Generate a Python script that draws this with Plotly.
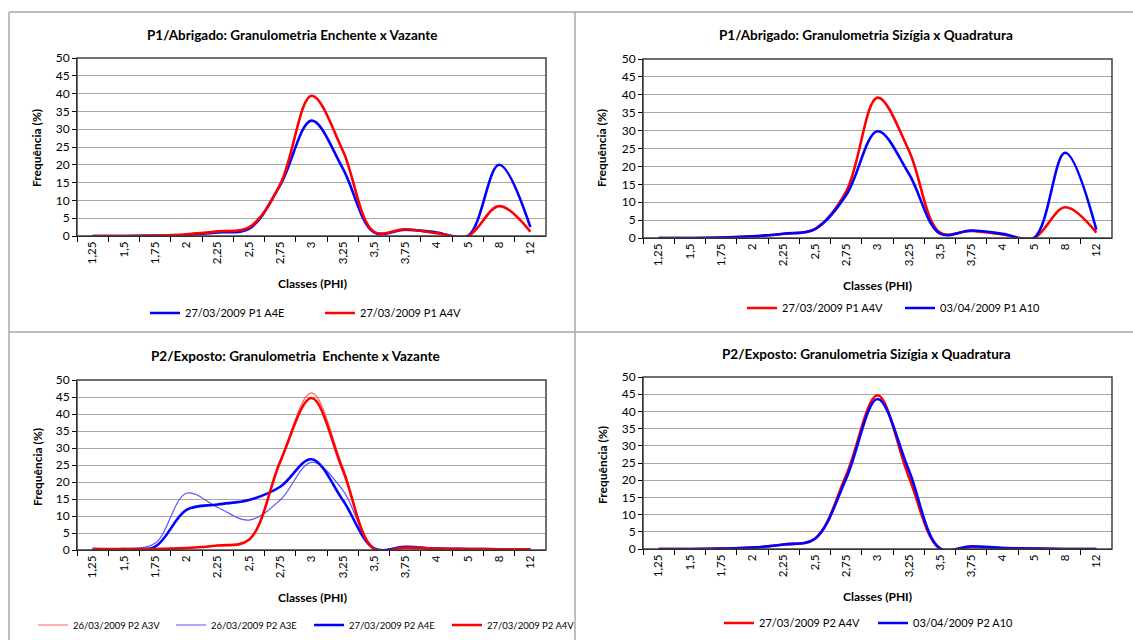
import plotly.graph_objects as go

W, H = 1133, 640

classes = ["1,25", "1,5", "1,75", "2", "2,25", "2,5", "2,75", "3",
           "3,25", "3,5", "3,75", "4", "5", "8", "12"]

# Chart 1: P1/Abrigado Enchente x Vazante
p1_a4e = [0, 0, 0.1, 0.3, 1.0, 2.0, 14.3, 32.4, 19.0, 1.0, 1.8, 1.0, 0, 20.0, 2.5]
p1_a4v = [0, 0, 0.1, 0.5, 1.3, 2.4, 14.5, 39.4, 24.0, 1.2, 1.9, 0.8, 0, 8.4, 1.2]
# Chart 2: P1/Abrigado Sizigia x Quadratura
p1_a4v_b = [0, 0, 0.1, 0.5, 1.2, 2.5, 13.0, 39.2, 24.5, 1.5, 2.0, 1.0, 0, 8.6, 1.5]
p1_a10 = [0, 0, 0.1, 0.5, 1.2, 2.5, 12.0, 29.8, 18.0, 1.2, 2.1, 1.2, 0, 23.8, 2.3]
# Chart 3: P2/Exposto Enchente x Vazante
p2_a3v = [0.3, 0.3, 0.3, 0.6, 1.4, 3.0, 26.0, 46.2, 24.5, 0.3, 0.8, 0.4, 0.3, 0.2, 0.2]
p2_a3e = [0.3, 0.4, 2.0, 16.7, 12.5, 8.8, 14.7, 25.8, 17.6, 0.5, 1.2, 0.5, 0.3, 0.2, 0.2]
p2_a4e = [0.3, 0.3, 1.0, 11.8, 13.4, 14.7, 18.6, 26.7, 14.7, 0.5, 0.8, 0.4, 0.3, 0.2, 0.2]
p2_a4v = [0.3, 0.3, 0.3, 0.6, 1.3, 3.0, 26.0, 44.7, 23.5, 0.3, 0.7, 0.4, 0.3, 0.2, 0.2]
# Chart 4: P2/Exposto Sizigia x Quadratura
p2_a4v_b = [0, 0, 0.1, 0.4, 1.3, 3.0, 21.5, 44.7, 21.0, 0.1, 0.6, 0.3, 0.1, 0, 0]
p2_a10 = [0, 0, 0.1, 0.4, 1.3, 3.0, 20.5, 43.6, 23.0, 0.2, 0.8, 0.3, 0.1, 0, 0]

titles = ["P1/Abrigado: Granulometria Enchente x Vazante",
          "P1/Abrigado: Granulometria Sizígia x Quadratura",
          "P2/Exposto: Granulometria  Enchente x Vazante",
          "P2/Exposto: Granulometria Sizígia x Quadratura"]

FONT = "Lato"
RED = "#FF0000"
BLUE = "#0000FF"
LRED = "#FF6060"
LBLUE = "#5555FF"

# plot areas in pixels: (left, right, top, bottom)
areas = [(77, 546, 58, 236), (643, 1112, 59, 238), (77, 546, 380, 550), (643, 1112, 377, 549)]

fig = go.Figure()

series = [
    (1, "27/03/2009 P1 A4E", p1_a4e, BLUE, 2.6, "legend"),
    (1, "27/03/2009 P1 A4V", p1_a4v, RED, 2.6, "legend"),
    (2, "27/03/2009 P1 A4V", p1_a4v_b, RED, 2.6, "legend2"),
    (2, "03/04/2009 P1 A10", p1_a10, BLUE, 2.6, "legend2"),
    (3, "26/03/2009 P2 A3V", p2_a3v, LRED, 1.2, "legend3"),
    (3, "26/03/2009 P2 A3E", p2_a3e, LBLUE, 1.2, "legend3"),
    (3, "27/03/2009 P2 A4E", p2_a4e, BLUE, 2.6, "legend3"),
    (3, "27/03/2009 P2 A4V", p2_a4v, RED, 2.6, "legend3"),
    (4, "27/03/2009 P2 A4V", p2_a4v_b, RED, 2.6, "legend4"),
    (4, "03/04/2009 P2 A10", p2_a10, BLUE, 2.6, "legend4"),
]

for k, name, vals, col, lw, leg in series:
    sfx = "" if k == 1 else str(k)
    fig.add_trace(go.Scatter(
        x=classes, y=vals, name=name, mode="lines",
        line=dict(color=col, width=lw, shape="spline", smoothing=1.0),
        xaxis="x" + sfx, yaxis="y" + sfx, legend=leg))

layout = dict(
    width=W, height=H,
    margin=dict(l=0, r=0, t=0, b=0, pad=0, autoexpand=False),
    paper_bgcolor="white", plot_bgcolor="white",
    font=dict(family=FONT, color="black", size=11),
    showlegend=True,
)

for i, (l, r, t, b) in enumerate(areas):
    k = i + 1
    sfx = "" if k == 1 else str(k)
    layout["xaxis" + sfx] = dict(
        domain=[l / W, r / W], anchor="y" + sfx, type="category",
        categoryorder="array", categoryarray=classes,
        range=[-0.5, 14.5], showgrid=False, zeroline=False,
        showline=True, linecolor="black", linewidth=1,
        ticks="outside", tickson="boundaries", ticklen=5, tickcolor="black",
        tickangle=-90, tickfont=dict(family=FONT, size=11.5, color="black"),
        automargin=False, fixedrange=True)
    layout["yaxis" + sfx] = dict(
        domain=[1 - b / H, 1 - t / H], anchor="x" + sfx,
        range=[0, 50], dtick=5, tick0=0,
        showgrid=True, gridcolor="#A6A6A6", gridwidth=1.3, zeroline=False,
        showline=True, linecolor="black", linewidth=1,
        ticks="outside", ticklen=4, tickcolor="black",
        tickfont=dict(family=FONT, size=12, color="black"),
        automargin=False, fixedrange=True)

# legends: (first line start x, centre y, entry width)
legpos = [(150, 313, 130), (747, 308, 113), (38, 625, 93), (724, 623, 109)]
legfs = [11, 11, 9.5, 11]
for i, (lx, ly, ew) in enumerate(legpos):
    key = "legend" if i == 0 else "legend" + str(i + 1)
    layout[key] = dict(
        x=(lx - 5) / W, y=1 - ly / H, xanchor="left", yanchor="middle",
        orientation="h", bgcolor="rgba(0,0,0,0)", borderwidth=0,
        font=dict(family=FONT, size=legfs[i], color="black"),
        entrywidth=ew, entrywidthmode="pixels", traceorder="normal",
        itemclick=False, itemdoubleclick=False)

fig.update_layout(**layout)

# titles and axis titles
title_pos = [(292, 35), (866, 35), (295, 356), (866, 354)]
ytitle_pos = [(37, 148), (602, 148), (37, 467), (602, 465)]
xtitle_pos = [(312, 283), (877, 285), (312, 597), (877, 596)]
for i in range(4):
    fig.add_annotation(text="<b>%s</b>" % titles[i], x=title_pos[i][0] / W, y=1 - title_pos[i][1] / H,
                       xref="paper", yref="paper", showarrow=False, xanchor="center", yanchor="middle",
                       font=dict(family=FONT, size=13.5, color="black"))
    fig.add_annotation(text="<b>Frequência (%)</b>", x=ytitle_pos[i][0] / W, y=1 - ytitle_pos[i][1] / H,
                       xref="paper", yref="paper", showarrow=False, textangle=-90,
                       xanchor="center", yanchor="middle",
                       font=dict(family=FONT, size=12, color="black"))
    fig.add_annotation(text="<b>Classes (PHI)</b>", x=xtitle_pos[i][0] / W, y=1 - xtitle_pos[i][1] / H,
                       xref="paper", yref="paper", showarrow=False, xanchor="center", yanchor="middle",
                       font=dict(family=FONT, size=12, color="black"))

# plot area frames
for i in range(4):
    sfx = "" if i == 0 else str(i + 1)
    fig.add_shape(type="rect", xref="x%s domain" % sfx, yref="y%s domain" % sfx,
                  x0=0, x1=1, y0=0, y1=1, line=dict(color="#404040", width=1.5), layer="above")

# panel separator lines
grey = "#A8A8A8"
seps = [(9, 12, 9, 640), (9, 12, 1133, 12), (575, 12, 575, 640), (9, 332, 1133, 332)]
for x0, y0, x1, y1 in seps:
    fig.add_shape(type="line", xref="paper", yref="paper",
                  x0=x0 / W, y0=1 - y0 / H, x1=x1 / W, y1=1 - y1 / H,
                  line=dict(color=grey, width=1.5))

fig.write_html("out.html", config={"displayModeBar": False},
               post_script="document.body.style.margin='0px';")
